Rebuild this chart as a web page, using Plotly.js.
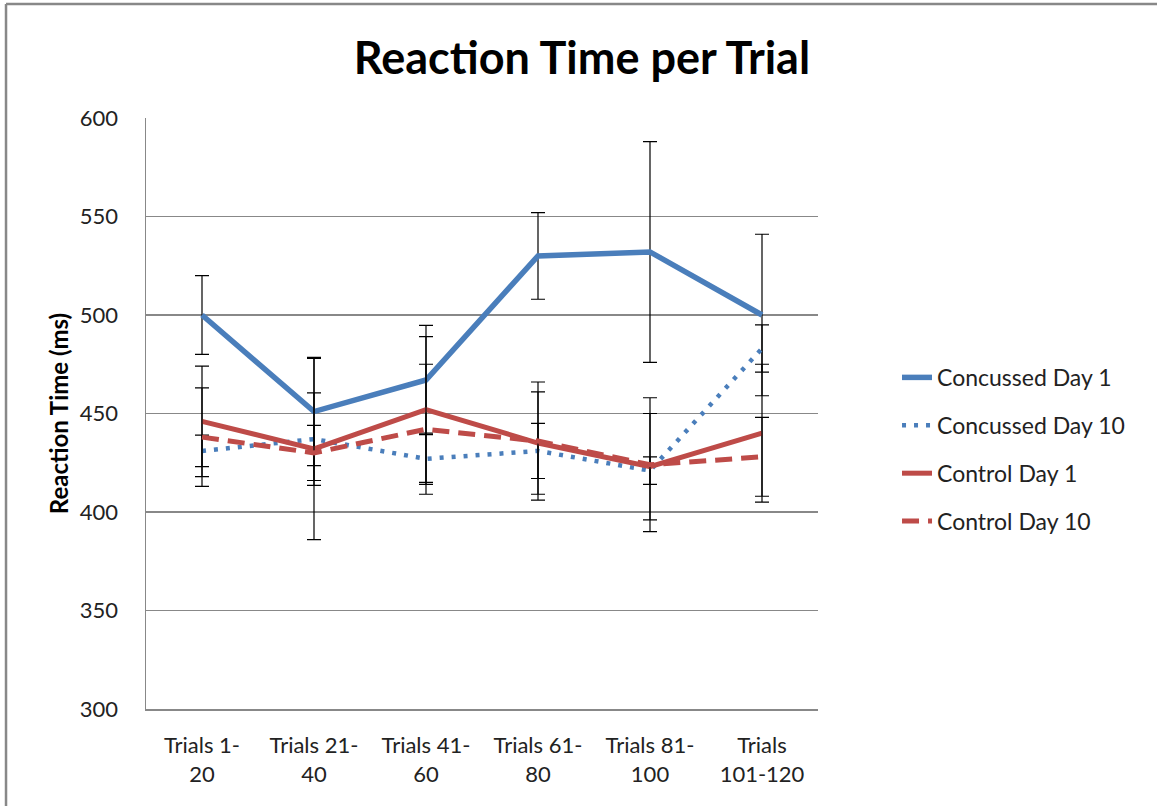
<!DOCTYPE html>
<html>
<head>
<meta charset="utf-8">
<script src="https://cdn.plot.ly/plotly-3.0.1.min.js"></script>
<style>html,body{margin:0;padding:0;background:#fff;}#chart{width:1157px;height:806px;}</style>
</head>
<body>
<div id="chart"></div>
<script>
var categories = ["Trials 1-<br>20", "Trials 21-<br>40", "Trials 41-<br>60", "Trials 61-<br>80", "Trials 81-<br>100", "Trials<br>101-120"];
var concussedDay1 = [500, 451, 467, 530, 532, 500];
var concussedDay1Err = [20, 27.5, 27.7, 22, 56, 41];
var concussedDay10 = [431, 437, 427, 431, 421, 483];
var concussedDay10Err = [8, 23.5, 13, 14, 7, 12];
var controlDay1 = [446, 432, 452, 435, 423, 440];
var controlDay1Err = [28, 46, 37, 26, 27, 35];
var controlDay10 = [438, 430, 442, 436, 424, 428];
var controlDay10Err = [25, 14, 33, 30, 34, 20];
var seriesNames = ["Concussed Day 1", "Concussed Day 10", "Control Day 1", "Control Day 10"];

var blue = "#4A7EBB", red = "#BE4B48";
function mk(name, y, err, color, dash, width, grp) {
  return {
    type: "scatter", mode: "lines", name: name, x: categories, y: y,
    legendgroup: grp,
    line: {color: color, dash: dash, width: width},
    error_y: {type: "data", array: err, visible: true, color: "#000", thickness: 1.2, width: 7}
  };
}
var data = [
  mk(seriesNames[0], concussedDay1, concussedDay1Err, blue, "solid", 5.5, "a"),
  mk(seriesNames[1], concussedDay10, concussedDay10Err, blue, "4px,8px", 4.5, "b"),
  mk(seriesNames[2], controlDay1, controlDay1Err, red, "solid", 5, "c"),
  mk(seriesNames[3], controlDay10, controlDay10Err, red, "17px,9px", 5, "d")
];
var layout = {
  width: 1157, height: 806,
  margin: {l: 146, r: 339, t: 118, b: 97},
  paper_bgcolor: "#fff", plot_bgcolor: "#fff",
  font: {family: "Lato, 'Open Sans', sans-serif", color: "#222", size: 22},
  title: {text: "<b>Reaction Time per Trial</b>", font: {size: 45, color: "#000", family: "Lato, sans-serif"}, x: 0.503, xanchor: "center", y: 0.928, yanchor: "middle"},
  showlegend: true,
  legend: {x: 1.1176, xanchor: "left", y: 0.4392, yanchor: "middle", traceorder: "grouped", tracegroupgap: 15, font: {size: 23, color: "#222"}, bgcolor: "rgba(0,0,0,0)"},
  xaxis: {type: "category", range: [-0.5, 5.5], showgrid: false, showline: true, linecolor: "#888", linewidth: 1.5, ticks: "", tickfont: {size: 22, color: "#222"}, ticklabelstandoff: 16, zeroline: false, fixedrange: true},
  yaxis: {range: [300, 600], dtick: 50, showgrid: true, gridcolor: "#888", gridwidth: 1.2, showline: true, linecolor: "#888", linewidth: 1.5, ticks: "", tickfont: {size: 22, color: "#222"}, ticklabelstandoff: 22, zeroline: false,
    title: {text: "<b>Reaction Time (ms)</b>", font: {size: 24, color: "#000"}, standoff: 4}},
  shapes: [
    {type: "line", xref: "paper", yref: "paper", x0: -0.2083, x1: 1.51, y0: 1.1929, y1: 1.1929, line: {color: "#888", width: 2.5}},
    {type: "line", xref: "paper", yref: "paper", x0: -0.2083, x1: -0.2083, y0: 1.1929, y1: -0.2, line: {color: "#888", width: 2.5}}
  ]
};
Plotly.newPlot("chart", data, layout, {displayModeBar: false, staticPlot: true});
</script>
</body>
</html>
